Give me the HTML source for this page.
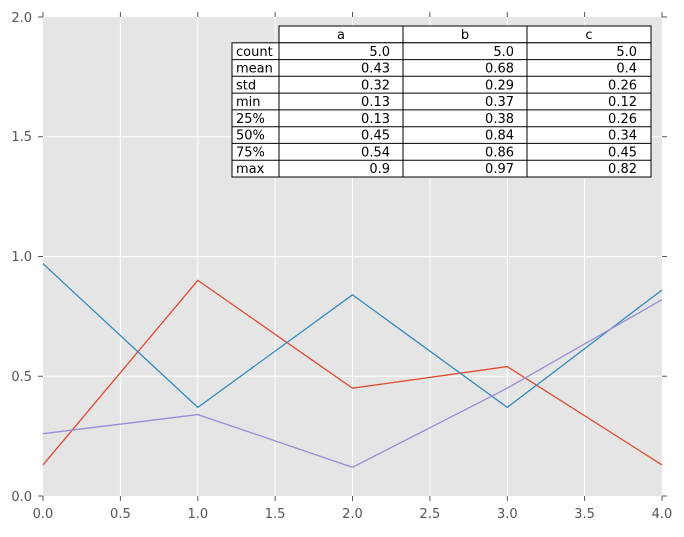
<!DOCTYPE html>
<html><head><meta charset="utf-8"><style>
body{margin:0;background:#fff;}
svg text{font-family:"DejaVu Sans",sans-serif;}
</style></head><body>
<svg width="684" height="532" xmlns="http://www.w3.org/2000/svg">
<rect x="43" y="17" width="619" height="479" fill="#e5e5e5"/>
<g stroke="#fff" stroke-width="1">
<line x1="120.4" y1="17" x2="120.4" y2="496"/><line x1="197.8" y1="17" x2="197.8" y2="496"/>
<line x1="275.1" y1="17" x2="275.1" y2="496"/><line x1="352.5" y1="17" x2="352.5" y2="496"/>
<line x1="429.9" y1="17" x2="429.9" y2="496"/><line x1="507.3" y1="17" x2="507.3" y2="496"/>
<line x1="584.6" y1="17" x2="584.6" y2="496"/>
<line x1="43" y1="376.25" x2="662" y2="376.25"/><line x1="43" y1="256.5" x2="662" y2="256.5"/>
<line x1="43" y1="136.75" x2="662" y2="136.75"/>
</g>
<g fill="none" stroke-width="1.3">
<polyline stroke="#e24a33" points="43,464.9 197.8,280.4 352.5,388.2 507.3,366.6 662,464.9"/>
<polyline stroke="#348abd" points="43,263.7 197.8,407.4 352.5,294.8 507.3,407.4 662,290.0"/>
<polyline stroke="#988ed5" points="43,433.7 197.8,414.6 352.5,467.3 507.3,388.2 662,299.6"/>
</g>
<g stroke="#555" stroke-width="1">
<line x1="43" y1="496" x2="43" y2="501"/><line x1="120.4" y1="496" x2="120.4" y2="501"/><line x1="197.8" y1="496" x2="197.8" y2="501"/><line x1="275.1" y1="496" x2="275.1" y2="501"/><line x1="352.5" y1="496" x2="352.5" y2="501"/><line x1="429.9" y1="496" x2="429.9" y2="501"/><line x1="507.3" y1="496" x2="507.3" y2="501"/><line x1="584.6" y1="496" x2="584.6" y2="501"/><line x1="662" y1="496" x2="662" y2="501"/>
<line x1="43" y1="17" x2="43" y2="12"/><line x1="120.4" y1="17" x2="120.4" y2="12"/><line x1="197.8" y1="17" x2="197.8" y2="12"/><line x1="275.1" y1="17" x2="275.1" y2="12"/><line x1="352.5" y1="17" x2="352.5" y2="12"/><line x1="429.9" y1="17" x2="429.9" y2="12"/><line x1="507.3" y1="17" x2="507.3" y2="12"/><line x1="584.6" y1="17" x2="584.6" y2="12"/><line x1="662" y1="17" x2="662" y2="12"/>
<line x1="43" y1="496" x2="38" y2="496"/><line x1="43" y1="376.25" x2="38" y2="376.25"/><line x1="43" y1="256.5" x2="38" y2="256.5"/><line x1="43" y1="136.75" x2="38" y2="136.75"/><line x1="43" y1="17" x2="38" y2="17"/>
<line x1="662" y1="496" x2="667" y2="496"/><line x1="662" y1="376.25" x2="667" y2="376.25"/><line x1="662" y1="256.5" x2="667" y2="256.5"/><line x1="662" y1="136.75" x2="667" y2="136.75"/><line x1="662" y1="17" x2="667" y2="17"/>
</g>
<g font-size="13" fill="#555" text-anchor="middle">
<text x="43" y="518">0.0</text><text x="120.4" y="518">0.5</text><text x="197.8" y="518">1.0</text><text x="275.1" y="518">1.5</text><text x="352.5" y="518">2.0</text><text x="429.9" y="518">2.5</text><text x="507.3" y="518">3.0</text><text x="584.6" y="518">3.5</text><text x="662" y="518">4.0</text>
</g>
<g font-size="13" fill="#555" text-anchor="end">
<text x="32" y="501">0.0</text><text x="32" y="381">0.5</text><text x="32" y="261">1.0</text><text x="32" y="141">1.5</text><text x="32" y="22">2.0</text>
</g>
<g fill="#fff" stroke="#000" stroke-width="1">
<rect x="279" y="26" width="124" height="16.8"/><rect x="403" y="26" width="124" height="16.8"/><rect x="527" y="26" width="124" height="16.8"/>
</g>
<g fill="#fff" stroke="#000" stroke-width="1">
<rect x="232" y="42.8" width="47" height="134.2"/>
<rect x="279" y="42.8" width="124" height="134.2"/><rect x="403" y="42.8" width="124" height="134.2"/><rect x="527" y="42.8" width="124" height="134.2"/>
<line x1="232" y1="59.6" x2="651" y2="59.6"/><line x1="232" y1="76.3" x2="651" y2="76.3"/><line x1="232" y1="93.1" x2="651" y2="93.1"/><line x1="232" y1="109.9" x2="651" y2="109.9"/><line x1="232" y1="126.7" x2="651" y2="126.7"/><line x1="232" y1="143.4" x2="651" y2="143.4"/><line x1="232" y1="160.2" x2="651" y2="160.2"/>
</g>
<g font-size="13" fill="#000">
<text x="341" y="39" text-anchor="middle">a</text><text x="465" y="39" text-anchor="middle">b</text><text x="589" y="39" text-anchor="middle">c</text>
<text x="236" y="56">count</text><text x="236" y="72.5">mean</text><text x="236" y="89.3">std</text><text x="236" y="106">min</text><text x="236" y="122.8">25%</text><text x="236" y="139.6">50%</text><text x="236" y="156.4">75%</text><text x="236" y="173.1">max</text>
<g text-anchor="end">
<text x="390" y="56">5.0</text><text x="514" y="56">5.0</text><text x="637" y="56">5.0</text>
<text x="390" y="72.5">0.43</text><text x="514" y="72.5">0.68</text><text x="637" y="72.5">0.4</text>
<text x="390" y="89.3">0.32</text><text x="514" y="89.3">0.29</text><text x="637" y="89.3">0.26</text>
<text x="390" y="106">0.13</text><text x="514" y="106">0.37</text><text x="637" y="106">0.12</text>
<text x="390" y="122.8">0.13</text><text x="514" y="122.8">0.38</text><text x="637" y="122.8">0.26</text>
<text x="390" y="139.6">0.45</text><text x="514" y="139.6">0.84</text><text x="637" y="139.6">0.34</text>
<text x="390" y="156.4">0.54</text><text x="514" y="156.4">0.86</text><text x="637" y="156.4">0.45</text>
<text x="390" y="173.1">0.9</text><text x="514" y="173.1">0.97</text><text x="637" y="173.1">0.82</text>
</g></g>
</svg>
</body></html>
